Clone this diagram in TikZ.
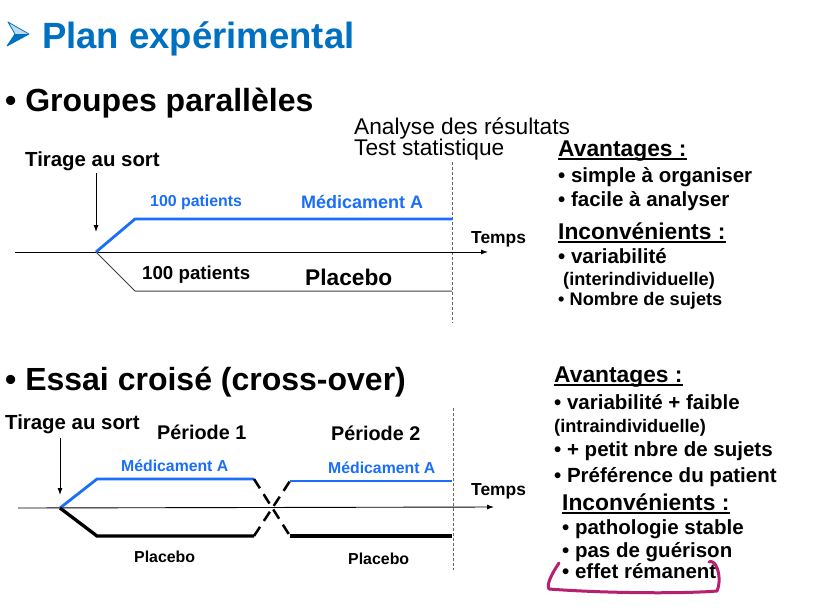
\documentclass[tikz,border=0pt]{standalone}
\usepackage{fontspec}
\setmainfont{Liberation Sans}
\usetikzlibrary{arrows.meta}
\definecolor{titleblue}{RGB}{0,112,192}
\definecolor{lineblue}{RGB}{25,110,250}
\definecolor{markpink}{RGB}{182,32,110}
\newcommand{\myfs}[1]{\fontsize{#1}{#1}\selectfont}
\begin{document}
\begin{tikzpicture}[x=1pt,y=-1pt,
  lbl/.style={inner sep=0pt, anchor=base west},
  clbl/.style={inner sep=0pt, anchor=base},
  hdr/.style={lbl, font=\bfseries\myfs{32}},
  head/.style={lbl, font=\bfseries\myfs{22.8}},
  item/.style={lbl, font=\bfseries\myfs{20.5}},
  sub/.style={lbl, font=\bfseries\myfs{18.2}},
  axis/.style={line width=0.9pt, -{Latex[length=7pt,width=5pt]}},
  drop/.style={line width=0.9pt, -{Latex[length=7pt,width=5pt]}},
  vdash/.style={gray!80!black, line width=0.8pt, dash pattern=on 3pt off 2pt},
  bluepath/.style={lineblue, line width=2.8pt},
  thinpath/.style={black!75, line width=1pt},
  thickpath/.style={black, line width=3.3pt},
  crossdash/.style={black, line width=2.5pt, dash pattern=on 11pt off 7pt},
  uline/.style={line width=1.5pt}
]
\useasboundingbox[fill=white] (0,0) rectangle (818,608);

% title
\fill[titleblue!25] (8,22) -- (29,34) -- (15,34) -- cycle;
\fill[titleblue] (15,34) -- (29,34) -- (7,46) -- cycle;
\draw[titleblue, line width=0.8pt, line join=round] (8,22) -- (29,34) -- (7,46) -- (15,34) -- cycle;
\node[lbl, font=\bfseries\myfs{36.5}, text=titleblue] (title) at (42,48) {Plan expérimental};

% ---------- section 1 ----------
\node[hdr] (h1) at (5,111) {• Groupes parallèles};
\node[lbl, font=\myfs{22.7}] (ana1) at (354,134) {Analyse des résultats};
\node[lbl, font=\myfs{22.7}] (ana2) at (354,155) {Test statistique};
\node[lbl, font=\bfseries\myfs{20.4}] (tir1) at (25,166) {Tirage au sort};

\coordinate (a1s) at (15,252);
\coordinate (a1e) at (488,252);
\coordinate (r1) at (96,252);
\coordinate (r1top) at (96,173);
\coordinate (r1arr) at (96,232);
\coordinate (b1c) at (135,219);
\coordinate (b1e) at (452,219);
\coordinate (k1c) at (135,291);
\coordinate (k1e) at (452,291);
\coordinate (v1s) at (452,162);
\coordinate (v1e) at (452,323);

\draw[vdash] (v1s) -- (v1e);
\draw[axis] (a1s) -- (a1e);
\draw[drop] (r1top) -- (r1arr);
\draw[bluepath, line join=miter] (r1) -- (b1c) -- (b1e);
\draw[thinpath] (r1) -- (k1c) -- (k1e);

\node[lbl, font=\bfseries\myfs{15.9}, text=lineblue] (p1a) at (150,206) {100 patients};
\node[lbl, font=\bfseries\myfs{18}, text=lineblue] (m1) at (301,208) {Médicament A};
\node[lbl, font=\bfseries\myfs{18.7}] (p1b) at (142,279) {100 patients};
\node[lbl, font=\bfseries\myfs{22.7}] (pl1) at (305,285) {Placebo};
\node[lbl, font=\bfseries\myfs{17.4}] (t1) at (471,243) {Temps};

% right column 1
\node[head] (av1) at (558,156) {Avantages :};
\draw[uline] ([yshift=-3pt]av1.base west) -- ([yshift=-3pt]av1.base east);
\node[item] (i11) at (558,182) {• simple à organiser};
\node[item] (i12) at (558,206) {• facile à analyser};
\node[head] (in1) at (558,239) {Inconvénients :};
\draw[uline] ([yshift=-3pt]in1.base west) -- ([yshift=-3pt]in1.base east);
\node[item] (i13) at (558,263) {• variabilité};
\node[sub] (i14) at (563,285) {(interindividuelle)};
\node[lbl, font=\bfseries\myfs{18.2}] (i15) at (558,305) {• Nombre de sujets};

% ---------- section 2 ----------
\node[hdr] (h2) at (5,390) {• Essai croisé (cross-over)};
\node[lbl, font=\bfseries\myfs{20.4}] (tir2) at (5,429) {Tirage au sort};
\node[lbl, font=\bfseries\myfs{19.8}] (per1) at (157,439) {Période 1};
\node[lbl, font=\bfseries\myfs{19.8}] (per2) at (331,440) {Période 2};

\coordinate (a2s) at (18,508);
\coordinate (a2e) at (494,507);
\coordinate (r2) at (60,508);
\coordinate (r2top) at (60,438);
\coordinate (r2arr) at (60,495);
\coordinate (b2c) at (97,479);
\coordinate (b2e) at (254,479);
\coordinate (b2s) at (290,481);
\coordinate (b2f) at (452,481);
\coordinate (k2c) at (97,536);
\coordinate (k2e) at (254,536);
\coordinate (k2s) at (290,536);
\coordinate (k2f) at (452,536);
\coordinate (v2s) at (453,408);
\coordinate (v2e) at (453,570);

\draw[vdash] (v2s) -- (v2e);
\draw[axis] (a2s) -- (a2e);
\draw[drop] (r2top) -- (r2arr);
\draw[bluepath, line join=miter] (r2) -- (b2c) -- (b2e);
\draw[thickpath, line join=miter] (r2) -- (k2c) -- (k2e);
\draw[crossdash] (b2e) -- (k2s);
\draw[crossdash] (k2e) -- (b2s);
\draw[bluepath] (b2s) -- (b2f);
\draw[thickpath] (k2s) -- (k2f);

\node[lbl, font=\bfseries\myfs{15.8}, text=lineblue] (m2a) at (121,471) {Médicament A};
\node[lbl, font=\bfseries\myfs{15.8}, text=lineblue] (m2b) at (328,473) {Médicament A};
\node[lbl, font=\bfseries\myfs{15.9}] (pl2a) at (134,562) {Placebo};
\node[lbl, font=\bfseries\myfs{15.9}] (pl2b) at (348,564) {Placebo};
\node[lbl, font=\bfseries\myfs{17.4}] (t2) at (471,495) {Temps};

% right column 2
\node[head] (av2) at (554,382) {Avantages :};
\draw[uline] ([yshift=-3pt]av2.base west) -- ([yshift=-3pt]av2.base east);
\node[item] (j1) at (554,409) {• variabilité + faible};
\node[sub] (j2) at (554,432) {(intraindividuelle)};
\node[item] (j3) at (554,456) {• + petit nbre de sujets};
\node[item] (j4) at (554,482) {• Préférence du patient};
\node[head] (in2) at (562,510) {Inconvénients :};
\draw[uline] ([yshift=-3pt]in2.base west) -- ([yshift=-3pt]in2.base east);
\node[item] (j5) at (562,534) {• pathologie stable};
\node[item] (j6) at (562,557) {• pas de guérison};
\node[item] (j7) at (562,578) {• effet rémanent};

% hand-drawn mark
\draw[markpink, line width=3pt, line cap=round, line join=round]
  (559,563) .. controls (553,572) and (546,584) .. (549,589)
  .. controls (600,593) and (680,594) .. (717,591)
  .. controls (721,582) and (719,568) .. (714,563)
  .. controls (712,561) and (710,561) .. (709,562);
\end{tikzpicture}
\end{document}
